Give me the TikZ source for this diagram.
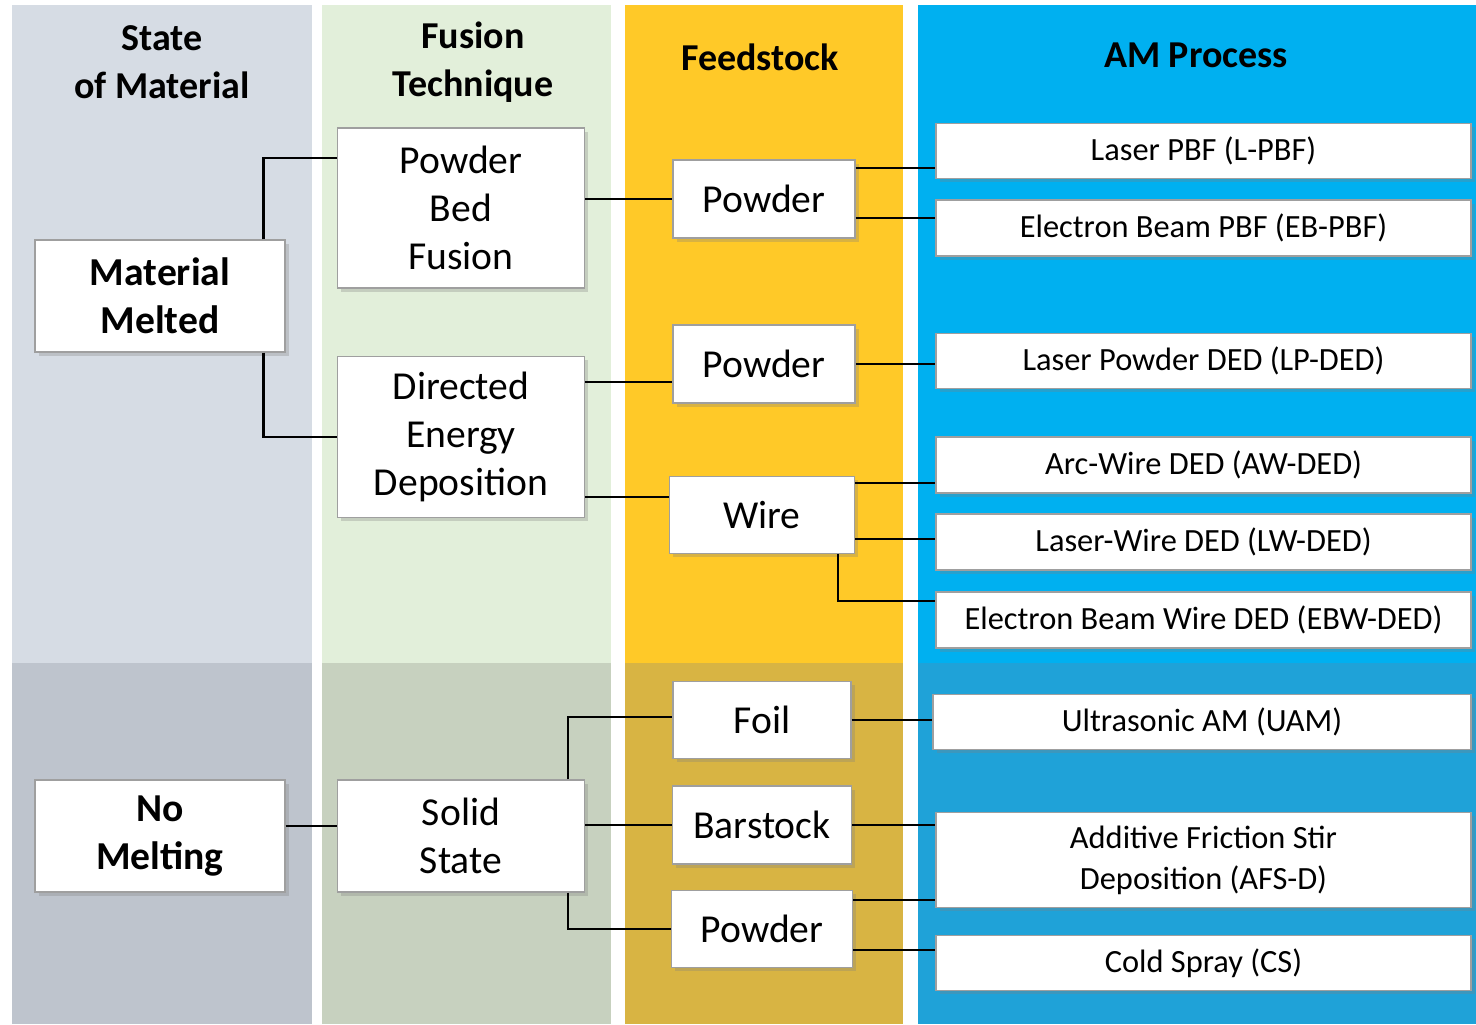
\documentclass[tikz,border=0pt]{standalone}
\usepackage{fontspec}
\setmainfont{Carlito}
\usetikzlibrary{positioning}
\usetikzlibrary{shadows}
\definecolor{stateTop}{HTML}{D6DCE4}
\definecolor{stateBot}{HTML}{BEC4CD}
\definecolor{fusionTop}{HTML}{E2EFDA}
\definecolor{fusionBot}{HTML}{C7D1BF}
\definecolor{feedTop}{HTML}{FFC928}
\definecolor{feedBot}{HTML}{D8B443}
\definecolor{amTop}{HTML}{00B0F0}
\definecolor{amBot}{HTML}{1FA2D8}
\tikzset{box/.style 2 args={draw=gray!75, fill=white, line width=0.6pt, drop shadow={shadow xshift=1.8pt, shadow yshift=-1.8pt, opacity=0.3}, minimum width=#1*0.5pt, minimum height=#2*0.5pt, inner sep=0pt, align=center},
	head/.style={align=center, font=\fontsize{19}{24}\selectfont\bfseries},
	big/.style={font=\fontsize{19.8}{24}\selectfont},
	bigb/.style={font=\fontsize{19.8}{24}\selectfont\bfseries},
	small/.style={font=\fontsize{16.2}{20.5}\selectfont},
	conn/.style={line width=1.35pt, black}}

\begin{document}
\begin{tikzpicture}[x=0.5pt,y=-0.5pt]
	\useasboundingbox (0,0) rectangle (1476,1024);
	% column bands
	\fill[stateTop] (12,5) rectangle (312,663);
	\fill[stateBot] (12,663) rectangle (312,1024);
	\fill[fusionTop] (322,5) rectangle (611,663);
	\fill[fusionBot] (322,663) rectangle (611,1024);
	\fill[feedTop] (625,5) rectangle (903,663);
	\fill[feedBot] (625,663) rectangle (903,1024);
	\fill[amTop] (918,5) rectangle (1476,663);
	\fill[amBot] (918,663) rectangle (1476,1024);
	% headings
	\node[head] (hstate) at (162,62) {State\\of Material};
	\node[head] (hfusion) at (473,62) {Fusion\\Technique};
	\node[head] (hfeed) at (760,57) {Feedstock};
	\node[head] (ham) at (1196,55) {AM Process};
	% state of material
	\node[box={250}{112}, bigb] (melt) at (160,296) {Material\\Melted};
	\node[box={250}{112}, bigb] (nomelt) at (160,836) {No\\Melting};
	% fusion technique
	\node[box={247}{160}, big] (pbf) at (461,208) {Powder\\Bed\\Fusion};
	\node[box={247}{161}, big] (ded) at (461,437) {Directed\\Energy\\Deposition};
	\node[box={247}{112}, big] (solid) at (461,836) {Solid\\State};
	% feedstock
	\node[box={182}{78}, big] (pw1) at (764,199) {Powder};
	\node[box={182}{78}, big] (pw2) at (764,364) {Powder};
	\node[box={185}{77}, big] (wire) at (762,515) {Wire};
	\node[box={178}{77}, big] (foil) at (762,720) {Foil};
	\node[box={179}{78}, big] (bar) at (762,825) {Barstock};
	\node[box={181}{77}, big] (pw3) at (762,929) {Powder};
	% AM process
	\node[box={535}{55}, small] (lpbf) at (1203.5,151) {Laser PBF (L-PBF)};
	\node[box={535}{56}, small] (ebpbf) at (1203.5,228) {Electron Beam PBF (EB-PBF)};
	\node[box={535}{55}, small] (lpded) at (1203.5,361) {Laser Powder DED (LP-DED)};
	\node[box={535}{56}, small] (awded) at (1203.5,465) {Arc-Wire DED (AW-DED)};
	\node[box={535}{56}, small] (lwded) at (1203.5,542) {Laser-Wire DED (LW-DED)};
	\node[box={535}{56}, small] (ebwded) at (1203.5,620) {Electron Beam Wire DED (EBW-DED)};
	\node[box={538}{55}, small] (uam) at (1202,722) {Ultrasonic AM (UAM)};
	\node[box={535}{95}, small] (afsd) at (1203.5,860) {Additive Friction Stir\\Deposition (AFS-D)};
	\node[box={535}{55}, small] (cs) at (1203.5,963) {Cold Spray (CS)};
	% connectors
	\draw[conn] ([xshift=-11pt]melt.north east) |- ([yshift=25pt]pbf.west);
	\draw[conn] ([xshift=-11pt]melt.south east) |- (ded.west);
	\draw[conn] (pbf.east |- pw1.west) -- (pw1.west);
	\coordinate (d1) at ([yshift=27.5pt]ded.east);
	\coordinate (d2) at ([yshift=-30pt]ded.east);
	\draw[conn] (d1) -- (d1 -| pw2.west);
	\draw[conn] (d2) -- (d2 -| wire.west);
	\coordinate (p1a) at ([yshift=15.5pt]pw1.east);
	\coordinate (p1b) at ([yshift=-9.5pt]pw1.east);
	\draw[conn] (p1a) -- (p1a -| lpbf.west);
	\draw[conn] (p1b) -- (p1b -| ebpbf.west);
	\draw[conn] (pw2.east) -- (pw2.east -| lpded.west);
	\coordinate (w1) at ([yshift=16pt]wire.east);
	\coordinate (w2) at ([yshift=-12pt]wire.east);
	\draw[conn] (w1) -- (w1 -| awded.west);
	\draw[conn] (w2) -- (w2 -| lwded.west);
	\draw[conn] ([xshift=-8.5pt]wire.south east) |- ([yshift=9.5pt]ebwded.west);
	\coordinate (n1) at ([yshift=5pt]nomelt.east);
	\draw[conn] (n1) -- (n1 -| solid.west);
	\draw[conn] ([xshift=-8.5pt]solid.north east) |- ([yshift=1.5pt]foil.west);
	\draw[conn] (solid.east |- bar.west) -- (bar.west);
	\draw[conn] ([xshift=-8.5pt]solid.south east) |- (pw3.west);
	\draw[conn] (foil.east) -- (foil.east -| uam.west);
	\draw[conn] (bar.east) -- (bar.east -| afsd.west);
	\coordinate (p3a) at ([yshift=14.5pt]pw3.east);
	\coordinate (p3b) at ([yshift=-10.5pt]pw3.east);
	\draw[conn] (p3a) -- (p3a -| afsd.west);
	\draw[conn] (p3b) -- (p3b -| cs.west);
\end{tikzpicture}
\end{document}
